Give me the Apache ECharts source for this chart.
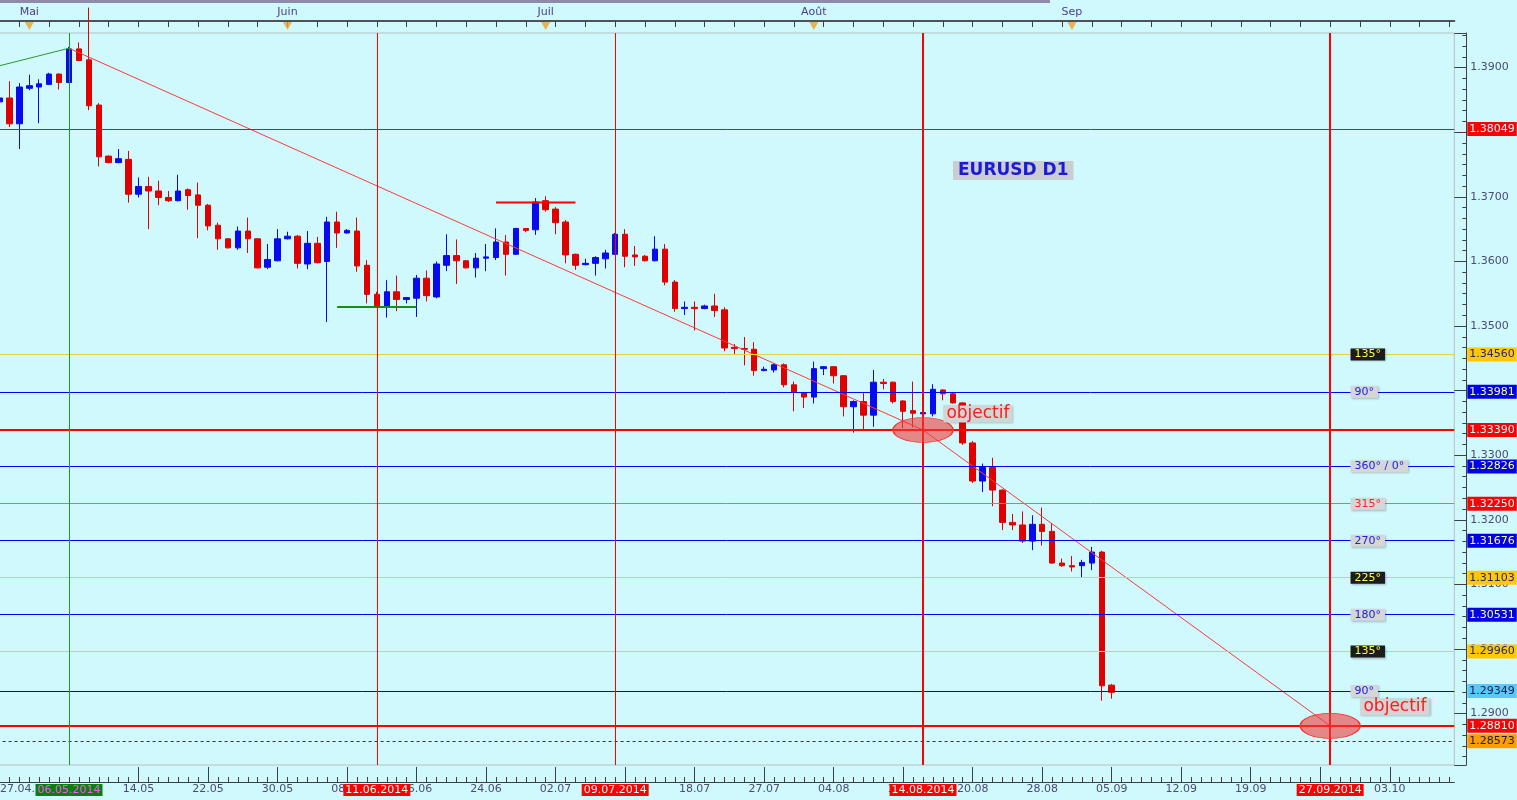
<!DOCTYPE html>
<html><head><meta charset="utf-8">
<script src="https://cdn.jsdelivr.net/npm/echarts@6/dist/echarts.min.js"></script>
<style>html,body{margin:0;padding:0;background:#cff9fc;}#c{width:1517px;height:800px;}</style>
</head><body><div id="c"></div>
<script>
// ---------- DATA ----------
const categories = [
 '27.04','28.04','29.04','30.04','01.05','02.05',
 '04.05','05.05','06.05','07.05','08.05','09.05',
 '11.05','12.05','13.05','14.05','15.05','16.05',
 '18.05','19.05','20.05','21.05','22.05','23.05',
 '25.05','26.05','27.05','28.05','29.05','30.05',
 '01.06','02.06','03.06','04.06','05.06','06.06',
 '08.06','09.06','10.06','11.06','12.06','13.06',
 '15.06','16.06','17.06','18.06','19.06','20.06',
 '22.06','23.06','24.06','25.06','26.06','27.06',
 '29.06','30.06','01.07','02.07','03.07','04.07',
 '06.07','07.07','08.07','09.07','10.07','11.07',
 '13.07','14.07','15.07','16.07','17.07','18.07',
 '20.07','21.07','22.07','23.07','24.07','25.07',
 '27.07','28.07','29.07','30.07','31.07','01.08',
 '03.08','04.08','05.08','06.08','07.08','08.08',
 '10.08','11.08','12.08','13.08','14.08','15.08',
 '17.08','18.08','19.08','20.08','21.08','22.08',
 '24.08','25.08','26.08','27.08','28.08','29.08',
 '31.08','01.09','02.09','03.09','04.09','05.09',
 '06.09','07.09','08.09','09.09','10.09','11.09','12.09','13.09','14.09','15.09',
 '16.09','17.09','18.09','19.09','20.09','21.09','22.09','23.09','24.09','25.09',
 '26.09','27.09','28.09','29.09','30.09','01.10','02.10','03.10','04.10','05.10',
 '06.10','07.10','08.10','09.10'
];
// [open, close, low, high]
const candles = [
 '-',
 [1.3847,1.3853,1.3845,1.3855],[1.3853,1.3813,1.3808,1.3879],[1.3813,1.3870,1.3774,1.3876],
 [1.3868,1.3872,1.3865,1.3889],[1.3870,1.3875,1.3814,1.3882],[1.3874,1.3890,1.3873,1.3892],
 [1.3890,1.3877,1.3866,1.3891],[1.3877,1.3929,1.3876,1.3932],[1.3929,1.3911,1.3910,1.3939],
 [1.3912,1.3841,1.3834,1.3993],[1.3842,1.3762,1.3747,1.3845],[1.3763,1.3753,1.3752,1.3764],
 [1.3753,1.3759,1.3752,1.3774],[1.3758,1.3704,1.3691,1.3771],[1.3704,1.3716,1.3699,1.3730],
 [1.3716,1.3709,1.3650,1.3731],[1.3709,1.3699,1.3687,1.3725],[1.3699,1.3694,1.3692,1.3709],
 [1.3694,1.3709,1.3693,1.3734],[1.3711,1.3702,1.3680,1.3713],[1.3703,1.3687,1.3636,1.3722],
 [1.3687,1.3655,1.3648,1.3689],[1.3656,1.3635,1.3618,1.3660],[1.3635,1.3621,1.3620,1.3636],
 [1.3621,1.3647,1.3618,1.3654],[1.3647,1.3635,1.3613,1.3668],[1.3635,1.3590,1.3589,1.3636],
 [1.3591,1.3603,1.3588,1.3627],[1.3601,1.3635,1.3600,1.3650],[1.3635,1.3639,1.3634,1.3646],
 [1.3639,1.3597,1.3589,1.3641],[1.3596,1.3628,1.3588,1.3647],[1.3628,1.3598,1.3597,1.3638],
 [1.3600,1.3661,1.3506,1.3669],[1.3661,1.3644,1.3621,1.3677],[1.3644,1.3648,1.3643,1.3650],
 [1.3647,1.3593,1.3584,1.3668],[1.3594,1.3549,1.3535,1.3602],[1.3549,1.3530,1.3528,1.3553],
 [1.3530,1.3553,1.3513,1.3571],[1.3553,1.3541,1.3523,1.3578],[1.3541,1.3544,1.3535,1.3545],
 [1.3543,1.3574,1.3514,1.3579],[1.3574,1.3547,1.3538,1.3586],[1.3545,1.3596,1.3543,1.3600],
 [1.3594,1.3609,1.3585,1.3642],[1.3609,1.3601,1.3565,1.3634],[1.3601,1.3590,1.3589,1.3602],
 [1.3590,1.3605,1.3575,1.3613],[1.3605,1.3607,1.3585,1.3627],[1.3606,1.3630,1.3602,1.3651],
 [1.3630,1.3611,1.3578,1.3641],[1.3611,1.3651,1.3610,1.3652],[1.3651,1.3648,1.3645,1.3651],
 [1.3649,1.3692,1.3641,1.3698],[1.3694,1.3680,1.3677,1.3701],[1.3681,1.3660,1.3642,1.3684],
 [1.3661,1.3610,1.3597,1.3664],[1.3611,1.3594,1.3587,1.3612],[1.3595,1.3597,1.3594,1.3604],
 [1.3597,1.3606,1.3578,1.3608],[1.3604,1.3613,1.3589,1.3618],[1.3611,1.3642,1.3610,1.3644],
 [1.3642,1.3608,1.3591,1.3650],[1.3610,1.3607,1.3593,1.3624],[1.3608,1.3601,1.3600,1.3610],
 [1.3601,1.3619,1.3600,1.3639],[1.3619,1.3568,1.3563,1.3627],[1.3568,1.3527,1.3522,1.3571],
 [1.3527,1.3529,1.3517,1.3538],[1.3529,1.3527,1.3493,1.3538],[1.3527,1.3531,1.3526,1.3533],
 [1.3531,1.3524,1.3514,1.3550],[1.3525,1.3466,1.3461,1.3529],[1.3467,1.3465,1.3456,1.3472],
 [1.3465,1.3464,1.3439,1.3483],[1.3464,1.3431,1.3423,1.3475],[1.3431,1.3433,1.3430,1.3437],
 [1.3432,1.3440,1.3428,1.3442],[1.3440,1.3409,1.3405,1.3442],[1.3409,1.3398,1.3368,1.3414],
 [1.3397,1.3390,1.3373,1.3398],[1.3390,1.3434,1.3380,1.3445],[1.3434,1.3437,1.3424,1.3438],
 [1.3437,1.3423,1.3411,1.3438],[1.3423,1.3375,1.3360,1.3424],[1.3375,1.3383,1.3335,1.3385],
 [1.3383,1.3362,1.3339,1.3396],[1.3362,1.3413,1.3344,1.3432],[1.3413,1.3411,1.3402,1.3418],
 [1.3413,1.3383,1.3380,1.3414],[1.3384,1.3368,1.3342,1.3385],[1.3369,1.3365,1.3343,1.3414],
 [1.3364,1.3366,1.3363,1.3367],[1.3364,1.3402,1.3360,1.3410],[1.3401,1.3395,1.3385,1.3402],
 [1.3395,1.3381,1.3380,1.3398],[1.3381,1.3319,1.3316,1.3382],[1.3319,1.3260,1.3257,1.3322],
 [1.3260,1.3281,1.3243,1.3287],[1.3281,1.3246,1.3221,1.3296],[1.3246,1.3196,1.3184,1.3247],
 [1.3196,1.3192,1.3184,1.3209],[1.3192,1.3167,1.3164,1.3213],[1.3167,1.3193,1.3153,1.3207],
 [1.3193,1.3182,1.3160,1.3219],[1.3182,1.3133,1.3132,1.3195],[1.3133,1.3129,1.3127,1.3140],
 [1.3129,1.3127,1.3120,1.3144],[1.3129,1.3134,1.3111,1.3138],[1.3133,1.3150,1.3122,1.3158],
 [1.3150,1.2943,1.2920,1.3152],[1.2944,1.2933,1.2923,1.2946]
];
const levelValues = [1.38049,1.34560,1.33981,1.33390,1.32826,1.32250,1.31676,1.31103,1.30531,1.29960,1.29349,1.28810,1.28573];
const levelKinds  = ['red','yellow','blue','redBold','blue','redLight','blue','yellow','blue','yellow','current','redBold','dotted'];
const degreeLevels = [1.34560,1.33981,1.32826,1.32250,1.31676,1.31103,1.30531,1.29960,1.29349];
const degreeTexts  = ['135°','90°','360° / 0°','315°','270°','225°','180°','135°','90°'];
const degreeKinds  = ['dark','grey','grey','greyRed','grey','dark','grey','dark','grey'];
const degreeAnchor = '29.09';
const eventDates  = ['06.05','11.06','09.07','14.08','27.09'];
const eventTexts  = ['06.05.2014','11.06.2014','09.07.2014','14.08.2014','27.09.2014'];
const eventKinds  = ['green','red','red','redBold','redBold'];
const trendGreen  = [['27.04',1.3899],['06.05',1.3930]];
const trendRed    = [['06.05',1.3930],['14.08',1.3339],['27.09',1.2881]];
const resistance  = [['25.06',1.36912],['04.07',1.36912]];
const support     = [['06.06',1.35295],['16.06',1.35295]];
const targets     = [['14.08',1.3339],['27.09',1.2881]];
const targetNotes = [['17.08',1.33638],['30.09',1.29102]];
const targetText  = 'objectif';
const monthStarts = ['01.05','01.06','01.07','01.08','01.09'];
const monthNames  = ['Mai','Juin','Juil','Août','Sep'];
const firstShownCat = '28.04';     // leftmost visible bar, labelled with the full start date
const firstLabel  = '27.04.2014';
const titleText   = 'EURUSD D1';

// ---------- STYLES ----------
const FONT = 'DejaVu Sans';
const BG = '#cff9fc';
const AX = '#3c4046';
const levelStyle = {
  red:      {line:'#ff0000', w:1, type:'solid', bg:'#ff0000', fg:'#b8ffff'},
  redBold:  {line:'#ff0000', w:2, type:'solid', bg:'#ff0000', fg:'#b8ffff'},
  redLight: {line:'#ff6060', w:1, type:'solid', bg:'#ff0000', fg:'#b8ffff'},
  yellow:   {line:'#e8d23c', w:1, type:'solid', bg:'#ffc800', fg:'#26267a'},
  blue:     {line:'#0000ff', w:1, type:'solid', bg:'#0000ee', fg:'#ffff70'},
  current:  {line:'#0000ff', w:1, type:'solid', bg:'#5cc8f6', fg:'#1a1a5a'},
  dotted:   {line:'#333333', w:1, type:[3,3],   bg:'#ff9c00', fg:'#1a1a5a'}
};
const degreeStyle = {
  dark:    {bg:'#1c1c1c', fg:'#ffff40'},
  grey:    {bg:'#d4d6d8', fg:'#2020e0'},
  greyRed: {bg:'#d4d6d8', fg:'#ff2020'}
};
const eventStyle = {
  green:   {line:'#1f9a1f', w:1, bg:'#0b7f0b', fg:'#ff55ff'},
  red:     {line:'#ff0000', w:1, bg:'#ff0000', fg:'#d8ffff'},
  redBold: {line:'#ff0000', w:2, bg:'#ff0000', fg:'#d8ffff'}
};

const GRID_LEFT = -15.4, GRID_W = 1469.7;

const hLines = levelValues.map((v,i)=>{
  const s = levelStyle[levelKinds[i]];
  return {yAxis:v, lineStyle:{color:s.line,width:s.w,type:s.type,opacity:1},
    label:{show:true,position:'end',distance:13,formatter:v.toFixed(5),backgroundColor:s.bg,color:s.fg,
      padding:[2,2,1,2],fontSize:11,fontFamily:FONT}};
});
const vLines = eventDates.map((d,i)=>{
  const s = eventStyle[eventKinds[i]];
  return {xAxis:d, lineStyle:{color:s.line,width:s.w,type:'solid',opacity:1},
    label:{show:true,position:'start',distance:19,formatter:eventTexts[i],backgroundColor:s.bg,color:s.fg,
      padding:[1,2,0,2],fontSize:11,fontFamily:FONT}};
});
const degreePoints = degreeLevels.map((v,i)=>{
  const s = degreeStyle[degreeKinds[i]];
  return {coord:[degreeAnchor,v], symbol:'rect', symbolSize:1, itemStyle:{color:'rgba(0,0,0,0)'},
    label:{show:true,position:'right',distance:0,formatter:degreeTexts[i],backgroundColor:s.bg,color:s.fg,
      padding:[1,4,0,4],fontSize:11,fontFamily:FONT,shadowColor:'rgba(0,0,0,0.25)',shadowBlur:2,shadowOffsetX:1,shadowOffsetY:1}};
});
const targetPoints = targets.map(t=>({coord:t, symbol:'circle', symbolSize:[60,25],
  itemStyle:{color:'rgba(240,60,60,0.6)', borderColor:'#ff3030', borderWidth:1}, label:{show:false}}));
const notePoints = targetNotes.map(t=>({coord:t, symbol:'rect', symbolSize:1, itemStyle:{color:'rgba(0,0,0,0)'},
  label:{show:true,position:'right',distance:0,formatter:targetText,color:'#ff1a1a',backgroundColor:'#d2d4d6',
    padding:[0,3,0,3],fontSize:17,fontFamily:FONT,shadowColor:'rgba(0,0,0,0.25)',shadowBlur:2,shadowOffsetX:1,shadowOffsetY:1}}));

const chart = echarts.init(document.getElementById('c'), null, {renderer:'canvas'});
chart.setOption({
  animation:false,
  backgroundColor:BG,
  textStyle:{fontFamily:FONT},
  title:{text:titleText,left:953,top:161,padding:[1,5,1,5],backgroundColor:'#cbcdd0',
    textStyle:{fontSize:17,fontWeight:'bold',color:'#1a1ad8',fontFamily:FONT}},
  graphic:[{type:'rect',shape:{x:0,y:0,width:1050,height:3},style:{fill:'#8e8aa8'},silent:true}],
  grid:[
    {left:GRID_LEFT,width:GRID_W,top:33,height:732,show:true,backgroundColor:BG,borderColor:'#b4c0c4',borderWidth:1,
     containLabel:false,outerBoundsMode:'none'},
    {left:GRID_LEFT,width:GRID_W,top:0,height:33,show:false,containLabel:false,outerBoundsMode:'none'}
  ],
  xAxis:[
    {type:'category',data:categories,gridIndex:0,position:'bottom',offset:17,boundaryGap:true,
     axisLine:{lineStyle:{color:AX,width:1}},
     axisTick:{show:true,inside:true,length:15,alignWithLabel:true,interval:(i)=>i%7===1,lineStyle:{color:AX,width:1}},
     axisLabel:{interval:(i)=>i%7===1,margin:2,color:'#4a4a72',fontSize:11,fontFamily:FONT,
       showMinLabel:true,hideOverlap:false,
       formatter:(v)=> v===firstShownCat ? '{first|'+firstLabel+'}' : v,
       rich:{first:{padding:[0,0,0,64],color:'#4a4a72',fontSize:11,fontFamily:FONT}}},
     splitLine:{show:false}},
    {type:'category',data:categories,gridIndex:0,position:'bottom',offset:17,boundaryGap:true,
     axisLine:{show:false},
     axisTick:{show:true,inside:true,length:5,alignWithLabel:true,interval:0,lineStyle:{color:AX,width:1}},
     axisLabel:{show:false},splitLine:{show:false}},
    {type:'category',data:categories,gridIndex:1,position:'bottom',offset:-12,boundaryGap:true,
     axisLine:{lineStyle:{color:'#4e5258',width:2}},
     axisTick:{show:true,inside:false,length:6,alignWithLabel:true,interval:2,lineStyle:{color:AX,width:1}},
     axisLabel:{inside:true,margin:3,color:'#4b3c8c',fontSize:11,fontFamily:FONT,
       interval:(i,v)=>monthStarts.indexOf(v)>=0,
       formatter:(v)=>{const k=monthStarts.indexOf(v);return k>=0?monthNames[k]:'';}},
     splitLine:{show:false}}
  ],
  yAxis:[
    {type:'value',gridIndex:0,position:'right',offset:12,min:1.28204,max:1.39536,splitNumber:11,
     axisLine:{show:true,lineStyle:{color:AX}},
     axisTick:{show:true,inside:true,length:12,lineStyle:{color:AX}},
     minorTick:{show:true,splitNumber:6,length:4,lineStyle:{color:AX}},
     axisLabel:{margin:4,color:'#4a4a72',fontSize:11,fontFamily:FONT,showMinLabel:false,showMaxLabel:false,
       formatter:(v)=>v.toFixed(4)},
     splitLine:{show:false},minorSplitLine:{show:false}},
    {type:'value',gridIndex:1,min:0,max:1,show:false}
  ],
  series:[
    {type:'candlestick',name:'EURUSD',xAxisIndex:0,yAxisIndex:0,data:candles,barWidth:6,
     itemStyle:{color:'#0a0aee',color0:'#e00000',borderColor:'#0a0aee',borderColor0:'#e00000',borderWidth:1},
     markLine:{silent:true,symbol:['none','none'],precision:5,animation:false,data:hLines.concat(vLines)}},
    {type:'line',xAxisIndex:0,yAxisIndex:0,data:trendGreen,symbol:'none',silent:true,
     lineStyle:{color:'#2a9a2a',width:1},z:3},
    {type:'line',xAxisIndex:0,yAxisIndex:0,data:resistance,symbol:'none',silent:true,
     lineStyle:{color:'#ff0000',width:2},z:3},
    {type:'line',xAxisIndex:0,yAxisIndex:0,data:support,symbol:'none',silent:true,
     lineStyle:{color:'#1a8a1a',width:2},z:3},
    {type:'line',xAxisIndex:0,yAxisIndex:0,data:trendRed,symbol:'none',silent:true,
     lineStyle:{color:'#ff3838',width:1},z:3,
     markPoint:{silent:true,animation:false,data:targetPoints.concat(degreePoints).concat(notePoints)}},
    {type:'scatter',xAxisIndex:2,yAxisIndex:1,data:monthStarts.map(m=>[m,0.21]),symbol:'triangle',
     symbolRotate:180,symbolSize:[9,8],itemStyle:{color:'#f2a020'},silent:true}
  ]
});
</script>
</body></html>
